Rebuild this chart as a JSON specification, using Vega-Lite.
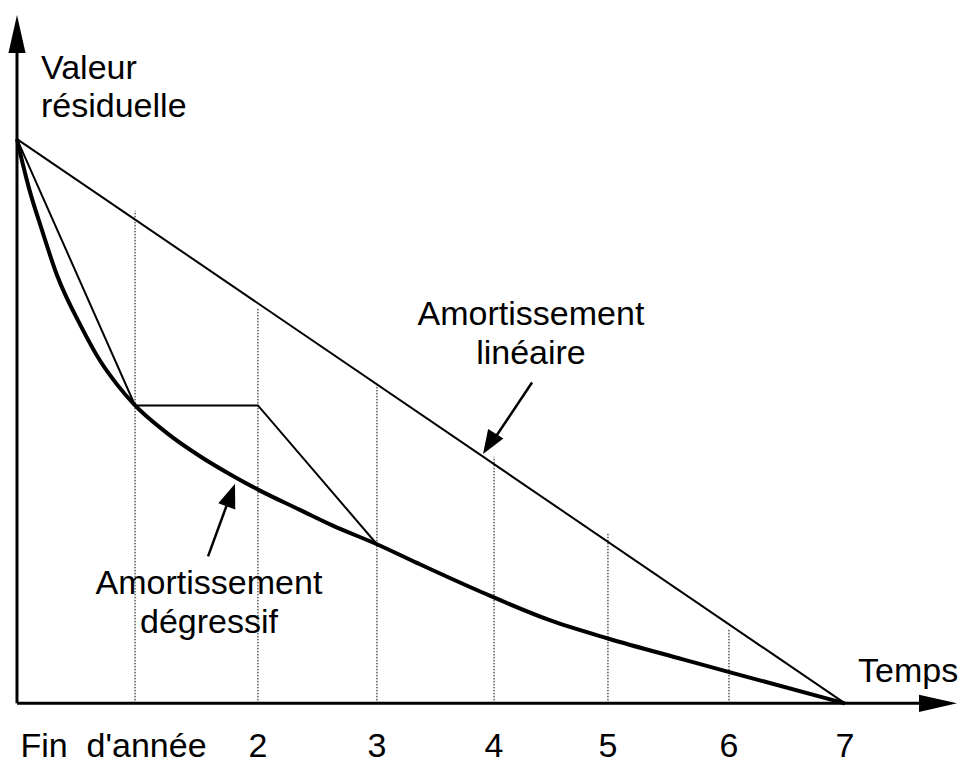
{
  "$schema": "https://vega.github.io/schema/vega-lite/v6.json",
  "width": 966,
  "height": 765,
  "padding": 0,
  "autosize": {"type": "fit", "contains": "padding"},
  "background": "white",
  "view": {"stroke": null},
  "config": {"text": {"font": "Liberation Sans, Arial, sans-serif", "fontSize": 34, "color": "black"}},
  "datasets": {
    "axes": [
      {"s": "y", "t": 0, "v": 0}, {"s": "y", "t": 0, "v": 119.5},
      {"s": "x", "t": 0, "v": 0}, {"s": "x", "t": 7.72, "v": 0}
    ],
    "axisheads": [
      {"t": 0, "v": 122.0, "a": 0},
      {"t": 7.947, "v": 0, "a": 90}
    ],
    "linear": [
      {"t": 0, "v": 100}, {"t": 7, "v": 0}
    ],
    "thin": [
      {"t": 0, "v": 100}, {"t": 0.998, "v": 52.8}, {"t": 2.037, "v": 52.8}, {"t": 3.043, "v": 28.2}
    ],
    "degressif": [
      {"t": 0, "v": 100}, {"t": 0.05, "v": 95.5}, {"t": 0.1, "v": 91.4}, {"t": 0.209, "v": 84.0},
      {"t": 0.336, "v": 76.0}, {"t": 0.547, "v": 66.6}, {"t": 0.7, "v": 60.8}, {"t": 0.85, "v": 56.4},
      {"t": 0.998, "v": 52.8}, {"t": 1.268, "v": 47.9}, {"t": 1.547, "v": 43.8}, {"t": 1.826, "v": 40.3},
      {"t": 2.054, "v": 37.7}, {"t": 2.392, "v": 34.3}, {"t": 2.67, "v": 31.5}, {"t": 3.043, "v": 28.2},
      {"t": 3.38, "v": 24.9}, {"t": 3.94, "v": 19.6}, {"t": 4.51, "v": 14.7}, {"t": 4.996, "v": 11.5},
      {"t": 5.63, "v": 7.8}, {"t": 6.03, "v": 5.5}, {"t": 7, "v": 0}
    ],
    "dotted": [
      {"t": 0.998, "v": 0, "v2": 87.3},
      {"t": 2.037, "v": 0, "v2": 70.1},
      {"t": 3.043, "v": 0, "v2": 56.9},
      {"t": 4.033, "v": 0, "v2": 43.7},
      {"t": 4.996, "v": 0, "v2": 30.1},
      {"t": 6.019, "v": 0, "v2": 13.2}
    ],
    "shafts": [
      {"s": "lin", "t": 4.354, "v": 56.87}, {"s": "lin", "t": 4.033, "v": 46.8},
      {"s": "deg", "t": 1.615, "v": 26.06}, {"s": "deg", "t": 1.784, "v": 35.74}
    ],
    "heads": [
      {"t": 3.94, "v": 44.19, "a": 212},
      {"t": 1.843, "v": 38.91, "a": 20}
    ],
    "labelsLeft": [
      {"t": 0.203, "v": 110.56, "label": "Valeur"},
      {"t": 0.203, "v": 103.87, "label": "résiduelle"},
      {"t": 7.11, "v": 3.87, "label": "Temps"}
    ],
    "labelsCenter": [
      {"t": 4.345, "v": 67.08, "label": "Amortissement"},
      {"t": 4.345, "v": 60.21, "label": "linéaire"},
      {"t": 1.623, "v": 19.37, "label": "Amortissement"},
      {"t": 1.623, "v": 12.5, "label": "dégressif"},
      {"t": 0.816, "v": -9.51, "label": "Fin\u00a0 d'année"},
      {"t": 2.037, "v": -9.51, "label": "2"},
      {"t": 3.043, "v": -9.51, "label": "3"},
      {"t": 4.033, "v": -9.51, "label": "4"},
      {"t": 4.996, "v": -9.51, "label": "5"},
      {"t": 6.019, "v": -9.51, "label": "6"},
      {"t": 7.0, "v": -9.51, "label": "7"}
    ]
  },
  "encoding": {
    "x": {"field": "t", "type": "quantitative", "scale": {"domain": [-0.1437, 8.0229], "nice": false, "zero": false}, "axis": null},
    "y": {"field": "v", "type": "quantitative", "scale": {"domain": [-10.035, 124.648], "nice": false, "zero": false}, "axis": null}
  },
  "layer": [
    {
      "data": {"name": "dotted"},
      "mark": {"type": "rule", "color": "black", "strokeWidth": 1, "strokeDash": [1.5, 1.5]},
      "encoding": {"y2": {"field": "v2"}}
    },
    {
      "data": {"name": "axes"},
      "mark": {"type": "line", "color": "black", "strokeWidth": 3},
      "encoding": {"detail": {"field": "s"}}
    },
    {
      "data": {"name": "axisheads"},
      "mark": {"type": "point", "shape": "M0,0L-0.45,2L0.45,2Z", "filled": true, "color": "black", "opacity": 1, "size": 1444, "strokeWidth": 0},
      "encoding": {"angle": {"field": "a", "type": "quantitative", "scale": null}}
    },
    {
      "data": {"name": "linear"},
      "mark": {"type": "line", "color": "black", "strokeWidth": 2}
    },
    {
      "data": {"name": "thin"},
      "mark": {"type": "line", "color": "black", "strokeWidth": 2}
    },
    {
      "data": {"name": "degressif"},
      "mark": {"type": "line", "color": "black", "strokeWidth": 4, "interpolate": "monotone"}
    },
    {
      "data": {"name": "shafts"},
      "mark": {"type": "line", "color": "black", "strokeWidth": 2.5},
      "encoding": {"detail": {"field": "s"}}
    },
    {
      "data": {"name": "heads"},
      "mark": {"type": "point", "shape": "M0,0L-0.75,2L0.75,2Z", "filled": true, "color": "black", "opacity": 1, "size": 576, "strokeWidth": 0},
      "encoding": {"angle": {"field": "a", "type": "quantitative", "scale": null}}
    },
    {
      "data": {"name": "labelsLeft"},
      "mark": {"type": "text", "align": "left", "baseline": "alphabetic"},
      "encoding": {"text": {"field": "label"}}
    },
    {
      "data": {"name": "labelsCenter"},
      "mark": {"type": "text", "align": "center", "baseline": "alphabetic"},
      "encoding": {"text": {"field": "label"}}
    }
  ]
}
